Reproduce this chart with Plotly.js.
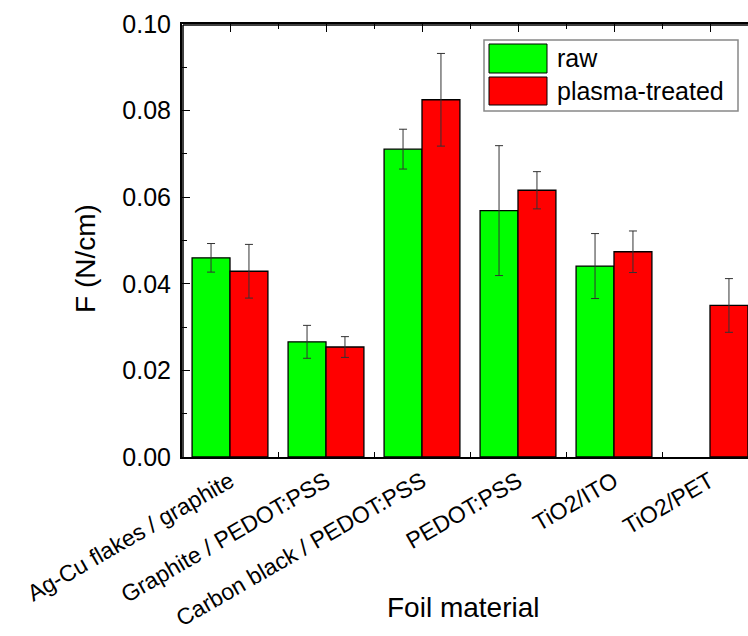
<!DOCTYPE html>
<html>
<head>
<meta charset="utf-8">
<script src="https://cdn.plot.ly/plotly-3.0.1.min.js"></script>
<style>html,body{margin:0;padding:0;overflow:hidden;background:#fff;}#chart{width:800px;height:636px;}</style>
</head>
<body>
<div id="chart"></div>
<script>
const categories = ["Ag-Cu flakes / graphite", "Graphite / PEDOT:PSS", "Carbon black / PEDOT:PSS", "PEDOT:PSS", "TiO2/ITO", "TiO2/PET"];
const rawValues = [0.0460, 0.0266, 0.0711, 0.0569, 0.0441, null];
const rawErrors = [0.0033, 0.0038, 0.0046, 0.0150, 0.0075, null];
const plasmaValues = [0.0429, 0.0254, 0.0825, 0.0616, 0.0474, 0.0350];
const plasmaErrors = [0.0062, 0.0024, 0.0107, 0.0043, 0.0048, 0.0062];
const seriesNames = ["raw", "plasma-treated"];
const seriesColors = ["#00FF00", "#FF0000"];
const xTitle = "Foil material";
const yTitle = "F (N/cm)";

const FONT = "Liberation Sans, Arial, sans-serif";
const W = 800, H = 636;
const L = 182, R = 758, T = 24, B = 457;
const px = x => (x - L) / (R - L);
const py = y => (B - y) / (B - T);
const catIndex = categories.map((c, i) => i);

const traces = [
  {type: "bar", name: seriesNames[0], x: categories, y: rawValues,
   marker: {color: seriesColors[0], line: {color: "#000", width: 1.3}},
   error_y: {type: "data", array: rawErrors, visible: true, color: "#333", thickness: 1, width: 4},
   showlegend: false},
  {type: "bar", name: seriesNames[1], x: categories, y: plasmaValues,
   marker: {color: seriesColors[1], line: {color: "#000", width: 1.3}},
   error_y: {type: "data", array: plasmaErrors, visible: true, color: "#333", thickness: 1, width: 4},
   showlegend: false},
  {type: "scatter", mode: "none", x: catIndex, y: plasmaValues, xaxis: "x2", yaxis: "y",
   showlegend: false, hoverinfo: "skip"}
];

const shapes = [
  // plot frame, drawn just inside the plot area
  {type: "line", xref: "paper", yref: "paper", x0: px(183), x1: px(183), y0: 0, y1: py(25),
   line: {color: "#000", width: 1.5}, layer: "above"},
  {type: "line", xref: "paper", yref: "paper", x0: px(183), x1: 1, y0: py(25), y1: py(25),
   line: {color: "#000", width: 1.5}, layer: "above"},
  // legend box and swatches
  {type: "rect", xref: "paper", yref: "paper", x0: px(484), x1: px(738), y0: py(111), y1: py(40),
   line: {color: "#888", width: 1.5}, fillcolor: "#fff", layer: "above"},
  {type: "rect", xref: "paper", yref: "paper", x0: px(489), x1: px(547), y0: py(73), y1: py(44),
   line: {color: "#000", width: 1}, fillcolor: seriesColors[0], layer: "above"},
  {type: "rect", xref: "paper", yref: "paper", x0: px(489), x1: px(547), y0: py(105), y1: py(77),
   line: {color: "#000", width: 1}, fillcolor: seriesColors[1], layer: "above"}
];
const annotations = [
  {xref: "paper", yref: "paper", x: px(555), y: py(58), text: seriesNames[0], showarrow: false,
   xanchor: "left", yanchor: "middle", font: {family: FONT, size: 25, color: "#000"}},
  {xref: "paper", yref: "paper", x: px(555), y: py(91), text: seriesNames[1], showarrow: false,
   xanchor: "left", yanchor: "middle", font: {family: FONT, size: 25, color: "#000"}},
  {xref: "paper", yref: "paper", x: px(463), y: py(607), text: xTitle, showarrow: false,
   xanchor: "center", yanchor: "middle", font: {family: FONT, size: 28, color: "#000"}},
  {xref: "paper", yref: "paper", x: px(85), y: py(259), text: yTitle, showarrow: false, textangle: -90,
   xanchor: "center", yanchor: "middle", font: {family: FONT, size: 28, color: "#000"}}
];

const layout = {
  width: W, height: H,
  margin: {l: L, r: W - R, t: T, b: H - B},
  barmode: "group", bargap: 0.21, bargroupgap: 0,
  font: {family: FONT, color: "#000"},
  showlegend: false,
  xaxis: {
    type: "category", range: [-0.5, 5.5],
    showline: true, linecolor: "#000", linewidth: 2, mirror: "ticks",
    ticks: "inside", tickson: "boundaries", ticklen: 5, tickcolor: "#000",
    tickangle: -30, tickfont: {family: FONT, size: 23, color: "#000"},
    showgrid: false, zeroline: false
  },
  xaxis2: {
    overlaying: "x", side: "top", anchor: "y", range: [-0.5, 5.5], type: "linear",
    showline: true, linecolor: "#000", linewidth: 2,
    tickmode: "array", tickvals: catIndex, showticklabels: false,
    ticks: "inside", ticklen: 8, tickcolor: "#000",
    showgrid: false, zeroline: false
  },
  yaxis: {
    range: [0, 0.10], dtick: 0.02, tickformat: ".2f",
    showline: true, linecolor: "#000", linewidth: 2, mirror: "ticks",
    ticks: "inside", ticklen: 8, tickcolor: "#000",
    minor: {dtick: 0.01, ticks: "inside", ticklen: 5, tickcolor: "#000", showgrid: false},
    tickfont: {family: FONT, size: 25, color: "#000"}, ticklabelstandoff: 4,
    showgrid: false, zeroline: false
  },
  shapes: shapes,
  annotations: annotations
};

Plotly.newPlot("chart", traces, layout, {displayModeBar: false});
</script>
</body>
</html>
